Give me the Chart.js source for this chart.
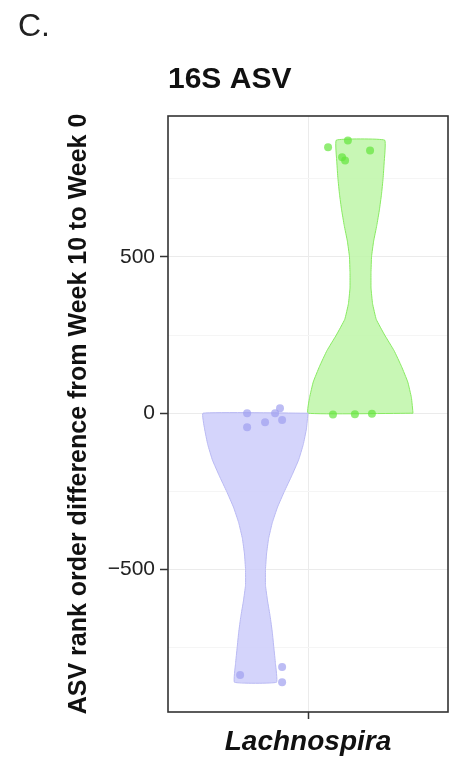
<!DOCTYPE html>
<html>
<head>
<meta charset="utf-8">
<script src="https://cdn.jsdelivr.net/npm/chart.js@4.4.1/dist/chart.umd.min.js"></script>
<style>
  body { margin: 0; background: #fff; }
  #wrap { position: relative; width: 453px; height: 761px; }
  #panel-tag { position: absolute; left: 18px; top: 9px; font: 32px 'Liberation Sans', Arial, sans-serif; color: #222; line-height: 32px; }
</style>
</head>
<body>
<div id="wrap">
  <canvas id="myChart" width="453" height="761"></canvas>
  <div id="panel-tag">C.</div>
</div>
<script>
  // category on the x axis (one taxon, two dodged halves)
  const categories = ['Lachnospira'];
  const yTicks = [-500, 0, 500];

  // decreased rank (purple) violin: y levels and relative density
  const purpleLevels = [0, -50, -100, -150, -200, -250, -300, -350, -400, -450, -500, -550, -600, -650, -700, -750, -800, -860];
  const purpleDensity = [1.0, 0.97, 0.91, 0.82, 0.69, 0.55, 0.42, 0.32, 0.25, 0.21, 0.19, 0.19, 0.23, 0.28, 0.32, 0.35, 0.38, 0.40];
  const purpleY = [0, -45, -29, 0, 16, -22, -837, -811, -860];
  const purpleJitter = [0.739, 0.739, 0.816, 0.859, 0.880, 0.889, 0.709, 0.889, 0.889];

  // increased rank (green) violin
  const greenLevels = [0, 50, 100, 150, 200, 250, 300, 350, 400, 450, 500, 550, 600, 650, 700, 750, 800, 873];
  const greenDensity = [1.0, 0.97, 0.90, 0.78, 0.64, 0.46, 0.30, 0.23, 0.20, 0.20, 0.21, 0.25, 0.31, 0.36, 0.40, 0.43, 0.45, 0.46];
  const greenY = [-4, -3, -2, 850, 872, 818, 840, 808];
  const greenJitter = [1.107, 1.201, 1.274, 1.086, 1.171, 1.146, 1.266, 1.159];

  const halfWidth = 0.225;
  const fam = "'Liberation Sans', Arial, Helvetica, sans-serif";

  function violin(center, levels, density) {
    const right = levels.map((y, i) => ({x: center + halfWidth * density[i], y: y}));
    const left = levels.map((y, i) => ({x: center - halfWidth * density[i], y: y})).reverse();
    return right.concat(left, [right[0]]);
  }
  function pts(xs, ys) {
    return ys.map((y, i) => ({x: xs[i], y: y}));
  }

  const panelBorder = {
    id: 'panelBorder',
    afterDatasetsDraw(chart) {
      const {ctx, chartArea: a} = chart;
      ctx.save();
      ctx.strokeStyle = '#333';
      ctx.lineWidth = 1.6;
      ctx.strokeRect(a.left, a.top, a.right - a.left, a.bottom - a.top);
      ctx.restore();
    }
  };

  Chart.defaults.font.family = fam;

  new Chart(document.getElementById('myChart'), {
    type: 'scatter',
    data: {
      datasets: [
        {
          data: pts(purpleJitter, purpleY),
          backgroundColor: 'rgba(160,160,240,0.7)',
          borderWidth: 0,
          pointRadius: 4,
          order: 0
        },
        {
          data: pts(greenJitter, greenY),
          backgroundColor: 'rgba(100,230,60,0.7)',
          borderWidth: 0,
          pointRadius: 4,
          order: 0
        },
        {
          data: violin(0.775, purpleLevels, purpleDensity),
          showLine: true,
          fill: 'shape',
          backgroundColor: 'rgba(205,205,250,0.85)',
          borderColor: '#b9b9f3',
          borderWidth: 1,
          pointRadius: 0,
          tension: 0.1,
          order: 1
        },
        {
          data: violin(1.225, greenLevels, greenDensity),
          showLine: true,
          fill: 'shape',
          backgroundColor: 'rgba(190,246,168,0.85)',
          borderColor: '#88ea62',
          borderWidth: 1,
          pointRadius: 0,
          tension: 0.1,
          order: 1
        }
      ]
    },
    options: {
      responsive: false,
      animation: false,
      layout: { padding: { left: 0, right: 5, top: 0, bottom: 0 } },
      plugins: {
        legend: { display: false },
        tooltip: { enabled: false },
        title: {
          display: true,
          text: '16S ASV',
          align: 'start',
          fullSize: false,
          color: '#111',
          font: { size: 30, weight: 'bold', family: fam },
          padding: { top: 62, bottom: 18 }
        }
      },
      scales: {
        x: {
          type: 'linear',
          min: 0.4,
          max: 1.6,
          afterBuildTicks: (axis) => { axis.ticks = [{value: 1}]; },
          afterFit: (axis) => { axis.height = 49; },
          border: { display: false },
          grid: {
            color: '#ebebeb',
            tickColor: '#333',
            tickLength: 7,
            tickWidth: 1.5
          },
          ticks: {
            padding: 6,
            color: '#111',
            font: { size: 28, weight: 'bold', style: 'italic', family: fam },
            callback: () => categories[0]
          }
        },
        y: {
          min: -955,
          max: 950,
          afterFit: (axis) => { axis.width = 168; },
          border: { display: false },
          grid: {
            color: (c) => (c.tick && c.tick.value % 500 === 0) ? '#ebebeb' : '#f5f5f5',
            tickColor: (c) => (c.tick && c.tick.value % 500 === 0) ? '#333' : 'rgba(0,0,0,0)',
            tickLength: 8,
            tickWidth: 1.5
          },
          ticks: {
            stepSize: 250,
            includeBounds: false,
            padding: 5,
            color: '#222',
            font: { size: 21, family: fam },
            callback: (v) => yTicks.includes(v) ? (v < 0 ? '\u2212' + Math.abs(v) : String(v)) : ''
          },
          title: {
            display: true,
            text: 'ASV rank order difference from Week 10 to Week 0',
            color: '#111',
            font: { size: 25, weight: 'bold', family: fam },
            padding: { top: 64, bottom: 0 }
          }
        }
      }
    },
    plugins: [panelBorder]
  });
</script>
</body>
</html>
